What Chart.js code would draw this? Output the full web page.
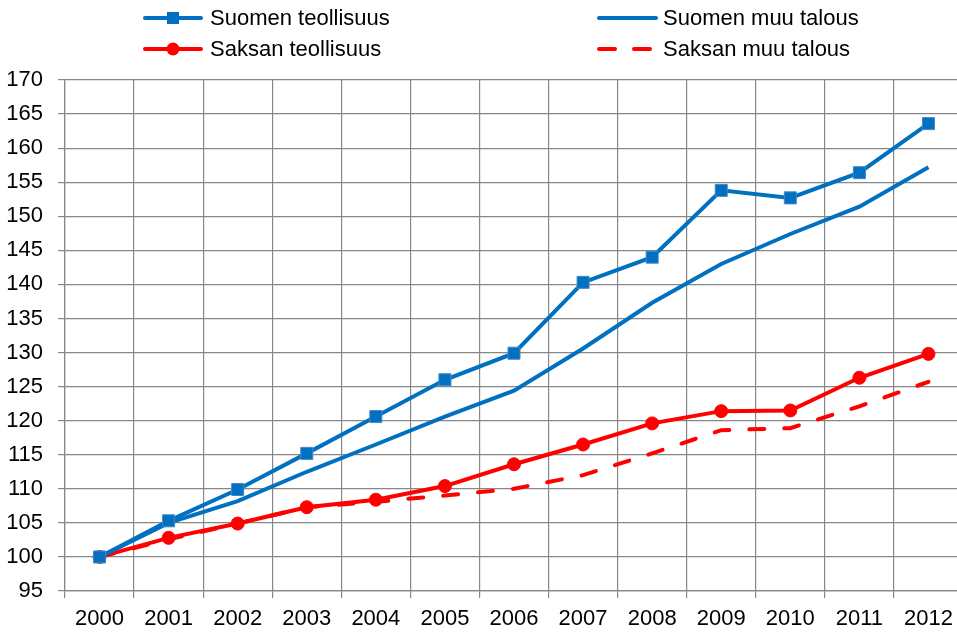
<!DOCTYPE html>
<html>
<head>
<meta charset="utf-8">
<script src="https://cdn.jsdelivr.net/npm/chart.js@4"></script>
<style>
  html, body { margin: 0; padding: 0; overflow: hidden; background: #fff; }
  canvas { display: block; }
</style>
</head>
<body>
<canvas id="kasvuChart" width="963" height="633"></canvas>
<script>
const years = ["2000", "2001", "2002", "2003", "2004", "2005", "2006", "2007", "2008", "2009", "2010", "2011", "2012"];
const suomenTeollisuus = [100, 105.3, 109.9, 115.2, 120.6, 126.0, 129.9, 140.3, 144.0, 153.8, 152.7, 156.4, 163.6];
const suomenMuuTalous = [100, 105.0, 108.2, 112.5, 116.5, 120.6, 124.4, 130.6, 137.3, 143.0, 147.4, 151.4, 157.2];
const saksanTeollisuus = [100, 102.8, 104.9, 107.3, 108.4, 110.4, 113.6, 116.5, 119.6, 121.4, 121.5, 126.3, 129.8];
const saksanMuuTalous = [100, 102.6, 104.9, 107.3, 108.1, 109.0, 110.0, 112.0, 115.2, 118.6, 118.9, 122.1, 125.7];
const yMin = 95, yMax = 170, yStep = 5;

const BLUE = "#0070C0";
const RED = "#FF0000";
const GRID = "#878787";
const FONT = "'Liberation Sans', Arial, sans-serif";

// legend drawn by hand: two columns, two rows, like the original
const legendSlots = [
  { x1: 145, x2: 201, text: 210, y: 18 },
  { x1: 599, x2: 656, text: 663, y: 18 },
  { x1: 145, x2: 201, text: 210, y: 49 },
  { x1: 599, x2: 656, text: 663, y: 49 },
];
const legendOrder = [0, 1, 2, 3];

const sideLegend = {
  id: "sideLegend",
  afterDraw(chart) {
    const ctx = chart.ctx;
    chart.data.datasets.forEach((ds, i) => {
      const s = legendSlots[legendOrder[i]];
      ctx.save();
      ctx.strokeStyle = ds.borderColor;
      ctx.lineWidth = 4;
      ctx.lineCap = "round";
      ctx.setLineDash(ds.borderDash ? [16, 19] : []);
      ctx.beginPath();
      ctx.moveTo(s.x1, s.y);
      ctx.lineTo(s.x2, s.y);
      ctx.stroke();
      ctx.setLineDash([]);
      const cx = (s.x1 + s.x2) / 2;
      if (ds.pointStyle === "rect") {
        ctx.fillStyle = ds.pointBackgroundColor;
        ctx.fillRect(cx - 6, s.y - 6, 12, 12);
      } else if (ds.pointRadius > 0) {
        ctx.fillStyle = ds.pointBackgroundColor;
        ctx.beginPath();
        ctx.arc(cx, s.y, 6.5, 0, Math.PI * 2);
        ctx.fill();
      }
      ctx.fillStyle = "#000";
      ctx.font = "22px " + FONT;
      ctx.textBaseline = "middle";
      ctx.textAlign = "left";
      ctx.fillText(ds.label, s.text, s.y + 1);
      ctx.restore();
    });
  },
};

const ctx = document.getElementById("kasvuChart");
new Chart(ctx, {
  type: "line",
  data: {
    labels: years,
    datasets: [
      {
        label: "Suomen teollisuus",
        data: suomenTeollisuus,
        borderColor: BLUE,
        borderWidth: 4,
        pointStyle: "rect",
        pointRadius: 8.5,
        pointBackgroundColor: BLUE,
        pointBorderColor: "#4a86c8",
        pointBorderWidth: 1,
        tension: 0,
      },
      {
        label: "Suomen muu talous",
        data: suomenMuuTalous,
        borderColor: BLUE,
        borderWidth: 4,
        pointRadius: 0,
        tension: 0,
      },
      {
        label: "Saksan teollisuus",
        data: saksanTeollisuus,
        borderColor: RED,
        borderWidth: 4,
        pointStyle: "circle",
        pointRadius: 6.5,
        pointBackgroundColor: RED,
        pointBorderColor: RED,
        pointBorderWidth: 1,
        tension: 0,
      },
      {
        label: "Saksan muu talous",
        data: saksanMuuTalous,
        borderColor: RED,
        borderWidth: 4,
        borderDash: [15, 20],
        borderCapStyle: "round",
        pointRadius: 0,
        tension: 0,
      },
    ],
  },
  options: {
    responsive: false,
    animation: false,
    layout: { autoPadding: false, padding: { top: 80, left: 0, right: 0, bottom: 0 } },
    plugins: {
      legend: { display: false },
      tooltip: { enabled: false },
    },
    scales: {
      x: {
        offset: true,
        grid: { offset: true, color: GRID, lineWidth: 1.2, tickLength: 7 },
        border: { color: GRID, width: 1.2 },
        ticks: { color: "#000", font: { family: FONT, size: 22 }, padding: 8, maxRotation: 0, autoSkip: false },
        afterFit: (scale) => {
          scale.height = 42;
          scale.paddingLeft = 0;
          scale.paddingRight = 0;
        },
      },
      y: {
        min: yMin,
        max: yMax,
        ticks: { stepSize: yStep, color: "#000", font: { family: FONT, size: 22 }, padding: 15 },
        grid: { color: GRID, lineWidth: 1.2, tickLength: 7 },
        border: { color: GRID, width: 1.2 },
        afterFit: (scale) => { scale.width = 65; },
      },
    },
  },
  plugins: [sideLegend],
});
</script>
</body>
</html>
